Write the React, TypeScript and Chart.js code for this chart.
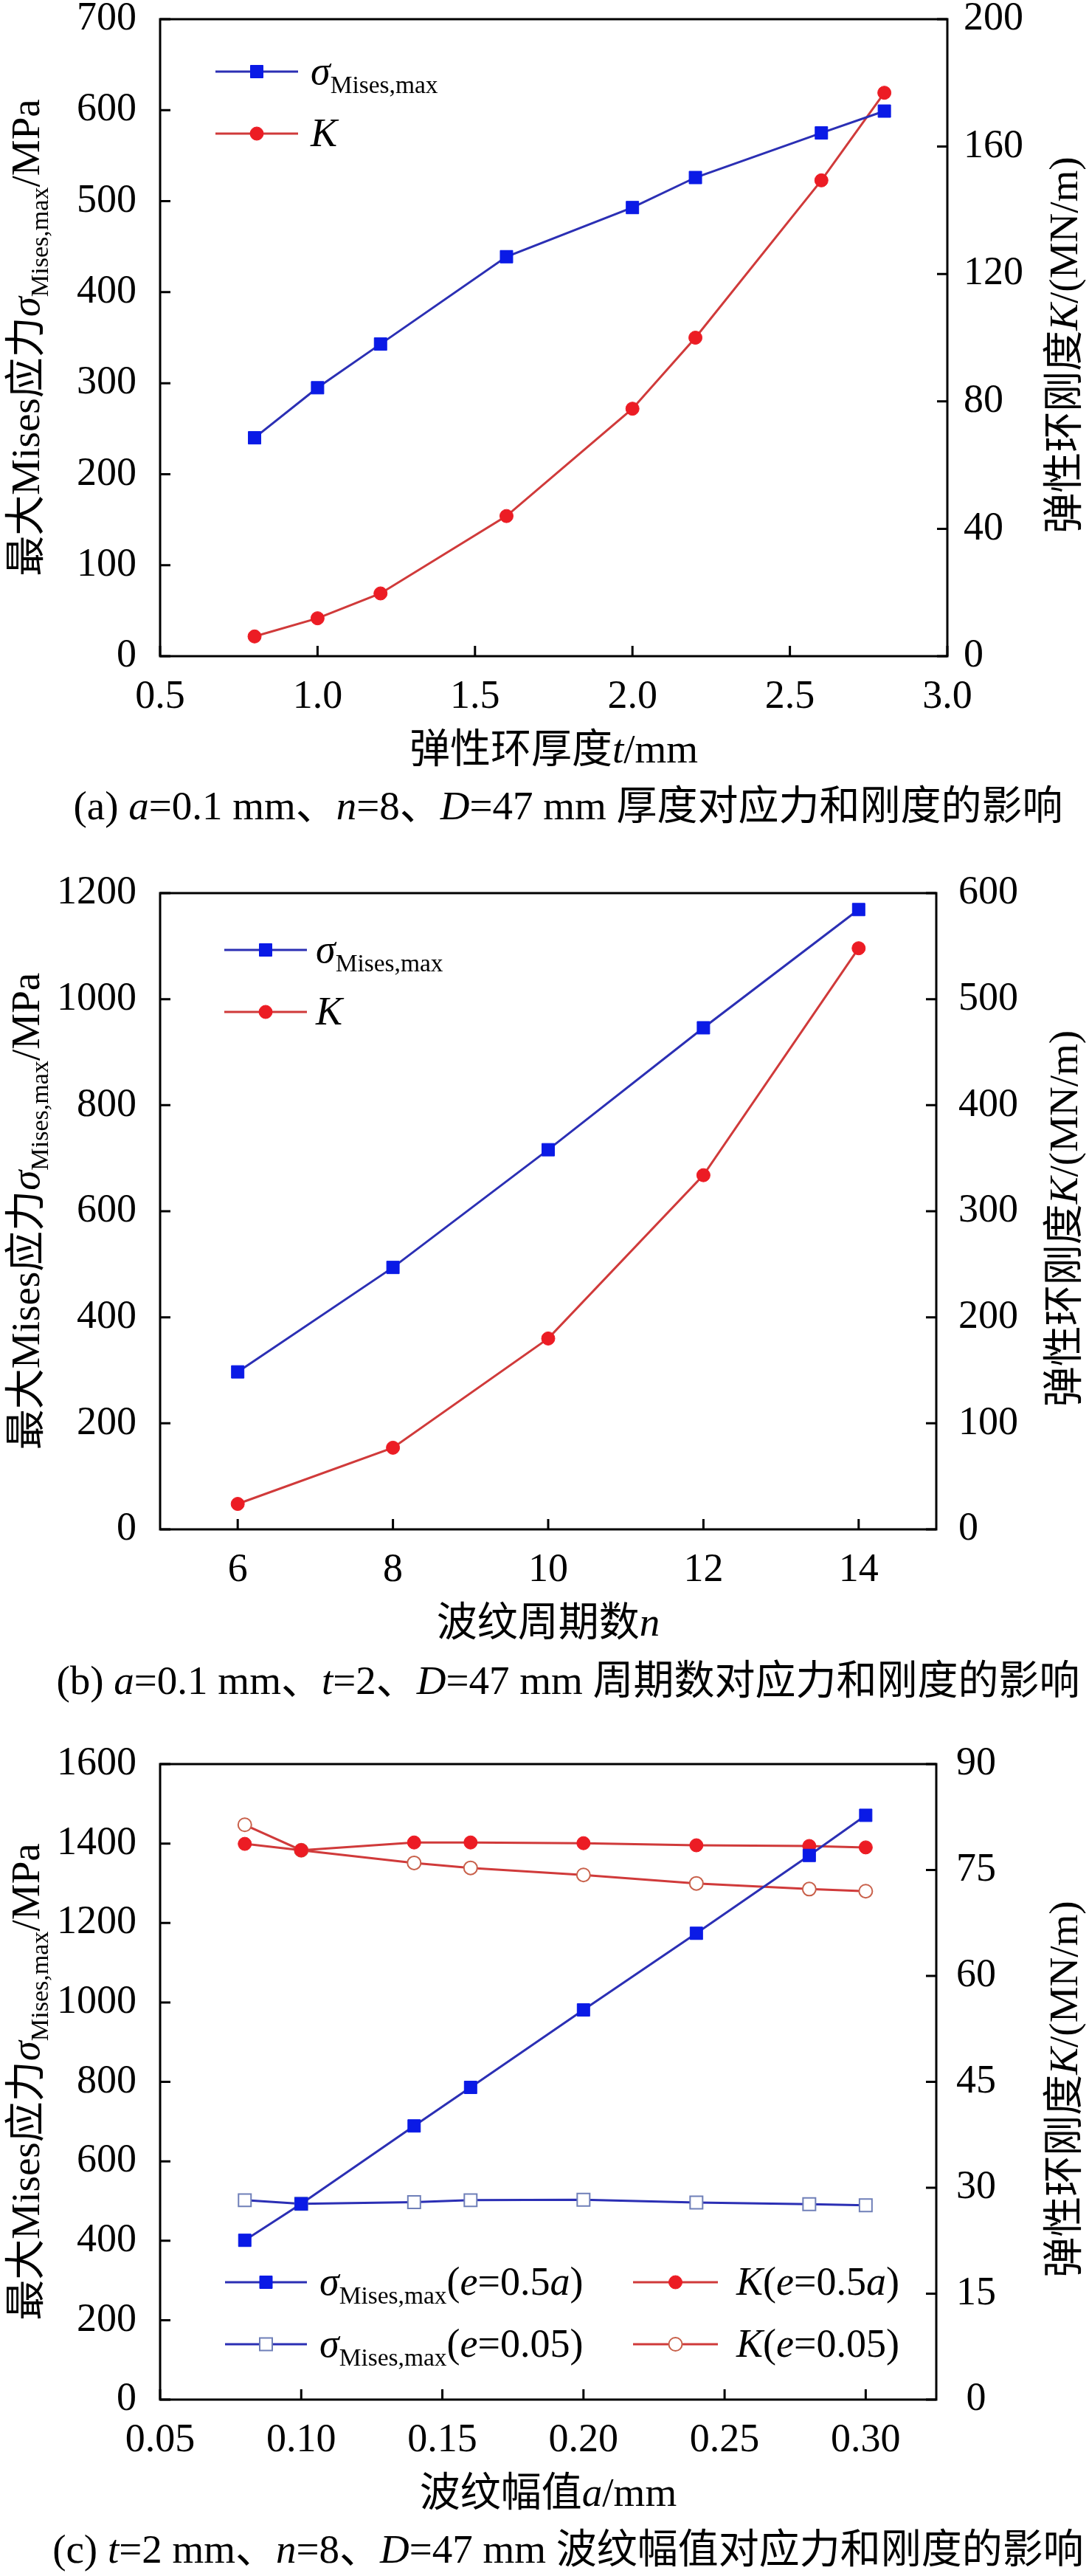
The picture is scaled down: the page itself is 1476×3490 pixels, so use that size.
import { useEffect, useRef } from "react";
import { Chart, registerables } from "chart.js";

Chart.register(...registerables);

// ---- data: (a) thickness ----
const A_T = [0.8, 1.0, 1.2, 1.6, 2.0, 2.2, 2.6, 2.8];
const A_SIGMA = [240, 295, 343, 439, 493, 526, 575, 599];
const A_K = [6.2, 11.9, 19.7, 44, 77.7, 100, 149.4, 176.9];
const A_X_TICKS = [0.5, 1.0, 1.5, 2.0, 2.5, 3.0];
const A_Y_TICKS = [0, 100, 200, 300, 400, 500, 600, 700];
const A_Y1_TICKS = [0, 40, 80, 120, 160, 200];

// ---- data: (b) period count ----
const B_N = [6, 8, 10, 12, 14];
const B_SIGMA = [297, 494, 716, 946, 1169];
const B_K = [24, 77, 180, 334, 548];
const B_X_TICKS = [6, 8, 10, 12, 14];
const B_Y_TICKS = [0, 200, 400, 600, 800, 1000, 1200];
const B_Y1_TICKS = [0, 100, 200, 300, 400, 500, 600];

// ---- data: (c) amplitude ----
const C_A = [0.08, 0.1, 0.14, 0.16, 0.2, 0.24, 0.28, 0.3];
const C_SIGMA_05A = [401, 493, 689, 786, 981, 1174, 1370, 1471];
const C_SIGMA_005 = [502, 493, 497, 502, 503, 496, 492, 489];
const C_K_05A = [78.7, 77.8, 78.9, 78.9, 78.8, 78.5, 78.4, 78.2];
const C_K_005 = [81.4, 77.8, 76.0, 75.3, 74.3, 73.1, 72.3, 72.0];
const C_X_TICKS = [0.05, 0.1, 0.15, 0.2, 0.25, 0.3];
const C_Y_TICKS = [0, 200, 400, 600, 800, 1000, 1200, 1400, 1600];
const C_Y1_TICKS = [0, 15, 30, 45, 60, 75, 90];

const W = 1476;
const FONT = "'Liberation Serif', 'Times New Roman', 'Noto Sans CJK SC', serif";
const SUB = 0.62;

const BLUE_LINE = "#2b2fb4";
const BLUE_MARK = "#0a1ae6";
const RED_LINE = "#d03a3a";
const RED_MARK = "#ec1c24";
const OPEN_BLUE = "#6f7fb8";
const OPEN_RED = "#c8604a";

type Seg = { t: string; it?: boolean; sub?: boolean };

const fontOf = (size: number, italic?: boolean) =>
  `${italic ? "italic " : ""}${size}px ${FONT}`;

function richWidth(ctx: CanvasRenderingContext2D, segs: Seg[], size: number) {
  let w = 0;
  for (const s of segs) {
    ctx.font = fontOf(s.sub ? size * SUB : size, s.it);
    w += ctx.measureText(s.t).width;
  }
  return w;
}

function drawRich(
  ctx: CanvasRenderingContext2D,
  segs: Seg[],
  x: number,
  y: number,
  size: number,
  center: boolean
) {
  let cx = center ? x - richWidth(ctx, segs, size) / 2 : x;
  ctx.textAlign = "left";
  ctx.textBaseline = "alphabetic";
  ctx.fillStyle = "#000";
  for (const s of segs) {
    ctx.font = fontOf(s.sub ? size * SUB : size, s.it);
    ctx.fillText(s.t, cx, s.sub ? y + size * 0.22 : y);
    cx += ctx.measureText(s.t).width;
  }
}

const LEFT_TITLE: Seg[] = [
  { t: "最大Mises应力" },
  { t: "σ", it: true },
  { t: "Mises,max", sub: true },
  { t: "/MPa" },
];
const RIGHT_TITLE: Seg[] = [{ t: "弹性环刚度" }, { t: "K", it: true }, { t: "/(MN/m)" }];
const SIGMA: Seg[] = [{ t: "σ", it: true }, { t: "Mises,max", sub: true }];

type LegendItem = { ds: number; x0: number; x1: number; y: number; tx: number; segs: Seg[] };

type PanelSpec = {
  height: number;
  top: number;
  bottom: number;
  left: number;
  right: number;
  xMin: number;
  xMax: number;
  xTicks: number[];
  xFmt: (v: number) => string;
  yMax: number;
  yTicks: number[];
  y1Max: number;
  y1Ticks: number[];
  rightPad: number;
  rightAlign: "near" | "center";
  datasets: any[];
  xTitle: Seg[];
  legend: LegendItem[];
  caption: Seg[];
  captionY: number;
};

const pts = (xs: number[], ys: number[]) => xs.map((x, i) => ({ x, y: ys[i] }));

function series(
  data: { x: number; y: number }[],
  axis: string,
  line: string,
  style: "rect" | "circle",
  fill: string,
  stroke: string
) {
  return {
    data,
    yAxisID: axis,
    borderColor: line,
    borderWidth: 3,
    tension: 0,
    fill: false,
    pointStyle: style,
    pointRadius: style === "rect" ? 12 : 9,
    pointBackgroundColor: fill,
    pointBorderColor: stroke,
    pointBorderWidth: fill === "#ffffff" ? 2 : 1,
  };
}

const PANEL_A: PanelSpec = {
  height: 1150,
  top: 26,
  bottom: 889,
  left: 217,
  right: 1284,
  xMin: 0.5,
  xMax: 3.0,
  xTicks: A_X_TICKS,
  xFmt: (v) => v.toFixed(1),
  yMax: 700,
  yTicks: A_Y_TICKS,
  y1Max: 200,
  y1Ticks: A_Y1_TICKS,
  rightPad: 22,
  rightAlign: "near",
  datasets: [
    series(pts(A_T, A_SIGMA), "y", BLUE_LINE, "rect", BLUE_MARK, BLUE_MARK),
    series(pts(A_T, A_K), "y1", RED_LINE, "circle", RED_MARK, RED_MARK),
  ],
  xTitle: [{ t: "弹性环厚度" }, { t: "t", it: true }, { t: "/mm" }],
  legend: [
    { ds: 0, x0: 292, x1: 404, y: 97, tx: 421, segs: SIGMA },
    { ds: 1, x0: 292, x1: 404, y: 181, tx: 421, segs: [{ t: "K", it: true }] },
  ],
  caption: [
    { t: "(a) " },
    { t: "a", it: true },
    { t: "=0.1 mm、" },
    { t: "n", it: true },
    { t: "=8、" },
    { t: "D", it: true },
    { t: "=47 mm 厚度对应力和刚度的影响" },
  ],
  captionY: 1110,
};

const PANEL_B: PanelSpec = {
  height: 1180,
  top: 60,
  bottom: 922,
  left: 217,
  right: 1269,
  xMin: 5,
  xMax: 15,
  xTicks: B_X_TICKS,
  xFmt: (v) => String(v),
  yMax: 1200,
  yTicks: B_Y_TICKS,
  y1Max: 600,
  y1Ticks: B_Y1_TICKS,
  rightPad: 30,
  rightAlign: "near",
  datasets: [
    series(pts(B_N, B_SIGMA), "y", BLUE_LINE, "rect", BLUE_MARK, BLUE_MARK),
    series(pts(B_N, B_K), "y1", RED_LINE, "circle", RED_MARK, RED_MARK),
  ],
  xTitle: [{ t: "波纹周期数" }, { t: "n", it: true }],
  legend: [
    { ds: 0, x0: 304, x1: 416, y: 137, tx: 428, segs: SIGMA },
    { ds: 1, x0: 304, x1: 416, y: 221, tx: 428, segs: [{ t: "K", it: true }] },
  ],
  caption: [
    { t: "(b) " },
    { t: "a", it: true },
    { t: "=0.1 mm、" },
    { t: "t", it: true },
    { t: "=2、" },
    { t: "D", it: true },
    { t: "=47 mm 周期数对应力和刚度的影响" },
  ],
  captionY: 1145,
};

const PANEL_C: PanelSpec = {
  height: 1160,
  top: 60,
  bottom: 921,
  left: 217,
  right: 1269,
  xMin: 0.05,
  xMax: 0.325,
  xTicks: C_X_TICKS,
  xFmt: (v) => v.toFixed(2),
  yMax: 1600,
  yTicks: C_Y_TICKS,
  y1Max: 90,
  y1Ticks: C_Y1_TICKS,
  rightPad: 27,
  rightAlign: "center",
  datasets: [
    series(pts(C_A, C_SIGMA_05A), "y", BLUE_LINE, "rect", BLUE_MARK, BLUE_MARK),
    series(pts(C_A, C_SIGMA_005), "y", BLUE_LINE, "rect", "#ffffff", OPEN_BLUE),
    series(pts(C_A, C_K_05A), "y1", RED_LINE, "circle", RED_MARK, RED_MARK),
    series(pts(C_A, C_K_005), "y1", RED_LINE, "circle", "#ffffff", OPEN_RED),
  ],
  xTitle: [{ t: "波纹幅值" }, { t: "a", it: true }, { t: "/mm" }],
  legend: [
    {
      ds: 0, x0: 305, x1: 416, y: 762, tx: 433,
      segs: [...SIGMA, { t: "(" }, { t: "e", it: true }, { t: "=0.5" }, { t: "a", it: true }, { t: ")" }],
    },
    {
      ds: 1, x0: 305, x1: 416, y: 846, tx: 433,
      segs: [...SIGMA, { t: "(" }, { t: "e", it: true }, { t: "=0.05)" }],
    },
    {
      ds: 2, x0: 858, x1: 973, y: 762, tx: 998,
      segs: [{ t: "K", it: true }, { t: "(" }, { t: "e", it: true }, { t: "=0.5" }, { t: "a", it: true }, { t: ")" }],
    },
    {
      ds: 3, x0: 858, x1: 973, y: 846, tx: 998,
      segs: [{ t: "K", it: true }, { t: "(" }, { t: "e", it: true }, { t: "=0.05)" }],
    },
  ],
  caption: [
    { t: "(c) " },
    { t: "t", it: true },
    { t: "=2 mm、" },
    { t: "n", it: true },
    { t: "=8、" },
    { t: "D", it: true },
    { t: "=47 mm 波纹幅值对应力和刚度的影响" },
  ],
  captionY: 1142,
};

function drawMarker(ctx: CanvasRenderingContext2D, ds: any, x: number, y: number) {
  ctx.save();
  ctx.fillStyle = ds.pointBackgroundColor;
  ctx.strokeStyle = ds.pointBorderColor;
  ctx.lineWidth = ds.pointBorderWidth;
  ctx.beginPath();
  if (ds.pointStyle === "rect") {
    const h = ds.pointRadius * Math.SQRT1_2;
    ctx.rect(x - h, y - h, h * 2, h * 2);
  } else {
    ctx.arc(x, y, ds.pointRadius, 0, Math.PI * 2);
  }
  ctx.fill();
  ctx.stroke();
  ctx.restore();
}

// frame, inward ticks, titles, legend and caption
function decorPlugin(p: PanelSpec) {
  return {
    id: "decor",
    afterDraw(chart: Chart) {
      const { ctx, chartArea: ca } = chart;
      const sx = chart.scales.x;
      const sy = chart.scales.y;
      const sy1 = chart.scales.y1;
      ctx.save();
      ctx.strokeStyle = "#000";
      ctx.lineWidth = 3;
      ctx.strokeRect(ca.left, ca.top, ca.right - ca.left, ca.bottom - ca.top);
      const TL = 14;
      ctx.beginPath();
      for (const t of sx.ticks) {
        const px = sx.getPixelForValue(t.value);
        ctx.moveTo(px, ca.bottom);
        ctx.lineTo(px, ca.bottom - TL);
      }
      for (const t of sy.ticks) {
        const py = sy.getPixelForValue(t.value);
        ctx.moveTo(ca.left, py);
        ctx.lineTo(ca.left + TL, py);
      }
      for (const t of sy1.ticks) {
        const py = sy1.getPixelForValue(t.value);
        ctx.moveTo(ca.right, py);
        ctx.lineTo(ca.right - TL, py);
      }
      ctx.stroke();

      const midY = (ca.top + ca.bottom) / 2;
      ctx.save();
      ctx.translate(53, midY);
      ctx.rotate(-Math.PI / 2);
      drawRich(ctx, LEFT_TITLE, 0, 0, 55, true);
      ctx.restore();

      ctx.save();
      ctx.translate(1460, midY + 10);
      ctx.rotate(-Math.PI / 2);
      drawRich(ctx, RIGHT_TITLE, 0, 0, 55, true);
      ctx.restore();

      drawRich(ctx, p.xTitle, (ca.left + ca.right) / 2, ca.bottom + 144, 55, true);

      for (const it of p.legend) {
        const ds: any = chart.data.datasets[it.ds];
        ctx.strokeStyle = ds.borderColor;
        ctx.lineWidth = ds.borderWidth;
        ctx.beginPath();
        ctx.moveTo(it.x0, it.y);
        ctx.lineTo(it.x1, it.y);
        ctx.stroke();
        drawMarker(ctx, ds, (it.x0 + it.x1) / 2, it.y);
        drawRich(ctx, it.segs, it.tx, it.y + 17, 54, false);
      }

      drawRich(ctx, p.caption, 770, p.captionY, 55, true);
      ctx.restore();
    },
  };
}

function buildConfig(p: PanelSpec): any {
  const fixPad = (s: any) => {
    s.paddingLeft = 0;
    s.paddingRight = 0;
    s.paddingTop = 0;
    s.paddingBottom = 0;
  };
  const setTicks = (vals: number[]) => (s: any) => {
    s.ticks = vals.map((v) => ({ value: v }));
  };
  const plain = (v: number | string) => String(Number(v));
  const tickFont = { family: FONT, size: 54 };
  const common = {
    grid: { display: false, drawTicks: false },
    border: { display: false },
  };
  return {
    type: "line",
    data: { datasets: p.datasets },
    options: {
      animation: false,
      responsive: false,
      devicePixelRatio: 1,
      events: [],
      layout: { padding: { top: p.top, left: 0, right: 0, bottom: 0 } },
      plugins: { legend: { display: false }, tooltip: { enabled: false } },
      scales: {
        x: {
          ...common,
          type: "linear",
          position: "bottom",
          min: p.xMin,
          max: p.xMax,
          ticks: {
            autoSkip: false,
            maxRotation: 0,
            padding: 23,
            color: "#000",
            font: tickFont,
            callback: (v: number | string) => p.xFmt(Number(v)),
          },
          afterBuildTicks: setTicks(p.xTicks),
          afterFit: (s: any) => {
            s.height = p.height - p.bottom;
            fixPad(s);
          },
        },
        y: {
          ...common,
          type: "linear",
          position: "left",
          min: 0,
          max: p.yMax,
          ticks: { autoSkip: false, padding: 32, color: "#000", font: tickFont, callback: plain },
          afterBuildTicks: setTicks(p.yTicks),
          afterFit: (s: any) => {
            s.width = p.left;
            fixPad(s);
          },
        },
        y1: {
          ...common,
          type: "linear",
          position: "right",
          min: 0,
          max: p.y1Max,
          ticks: {
            autoSkip: false,
            padding: p.rightPad,
            crossAlign: p.rightAlign,
            color: "#000",
            font: tickFont,
            callback: plain,
          },
          afterBuildTicks: setTicks(p.y1Ticks),
          afterFit: (s: any) => {
            s.width = W - p.right;
            fixPad(s);
          },
        },
      },
    },
    plugins: [decorPlugin(p)],
  };
}

function Panel({ spec }: { spec: PanelSpec }) {
  const ref = useRef<HTMLCanvasElement>(null);
  useEffect(() => {
    if (!ref.current) return;
    const chart = new Chart(ref.current, buildConfig(spec));
    return () => chart.destroy();
  }, [spec]);
  return (
    <canvas
      ref={ref}
      width={W}
      height={spec.height}
      style={{ display: "block", width: W, height: spec.height }}
    />
  );
}

export default function App() {
  return (
    <div style={{ position: "absolute", left: 0, top: 0, width: W, background: "#fff" }}>
      <Panel spec={PANEL_A} />
      <Panel spec={PANEL_B} />
      <Panel spec={PANEL_C} />
    </div>
  );
}
